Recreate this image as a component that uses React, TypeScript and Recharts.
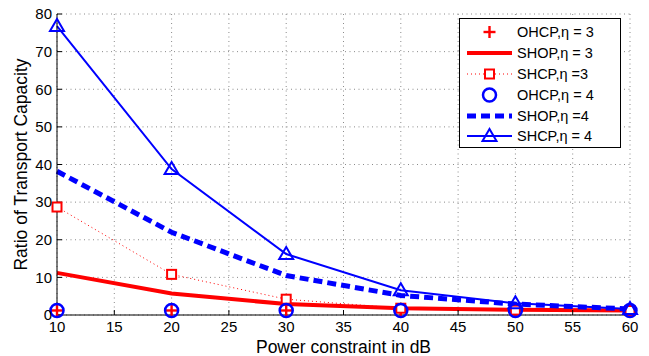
import { LineChart, Line, XAxis, YAxis, CartesianGrid, Legend } from 'recharts';

const powerDb = [10, 20, 30, 40, 50, 60];
const ohcpEta3 = [1.2, 1.2, 1.2, 1.2, 1.2, 1.2];
const shopEta3 = [11.2, 5.7, 2.9, 1.8, 1.4, 1.2];
const shcpEta3 = [28.7, 10.8, 4.2, 1.8, 1.3, 1.2];
const ohcpEta4 = [1.2, 1.2, 1.2, 1.2, 1.2, 1.2];
const shopEta4 = [38.2, 22, 10.5, 5.2, 2.9, 1.6];
const shcpEta4 = [76.8, 38.8, 16.2, 6.6, 3.1, 1.6];

const xTicks = [10, 15, 20, 25, 30, 35, 40, 45, 50, 55, 60];
const yTicks = [0, 10, 20, 30, 40, 50, 60, 70, 80];

const RED = '#ff0000';
const BLUE = '#0000ff';

const data = powerDb.map((x, i) => ({
  x,
  ohcp3: ohcpEta3[i],
  shop3: shopEta3[i],
  shcp3: shcpEta3[i],
  ohcp4: ohcpEta4[i],
  shop4: shopEta4[i],
  shcp4: shcpEta4[i],
}));

type M = 'plus' | 'square' | 'circle' | 'triangle' | 'none';

function Marker({ kind, cx, cy, color }: { kind: M; cx: number; cy: number; color: string }) {
  if (kind === 'plus')
    return (
      <g stroke={color} strokeWidth={2.4}>
        <line x1={cx - 6} y1={cy} x2={cx + 6} y2={cy} />
        <line x1={cx} y1={cy - 6} x2={cx} y2={cy + 6} />
      </g>
    );
  if (kind === 'square')
    return <rect x={cx - 4.5} y={cy - 4.5} width={9} height={9} fill="#fff" stroke={color} strokeWidth={2} />;
  if (kind === 'circle') return <circle cx={cx} cy={cy} r={6.5} fill="none" stroke={color} strokeWidth={2.5} />;
  if (kind === 'triangle')
    return (
      <polygon
        points={`${cx},${cy - 7} ${cx - 7},${cy + 5} ${cx + 7},${cy + 5}`}
        fill="none"
        stroke={color}
        strokeWidth={2}
      />
    );
  return null;
}

const series = [
  { key: 'ohcp3', name: 'OHCP,\u03b7 = 3', color: RED, width: 0, dash: undefined, marker: 'plus' as M },
  { key: 'shop3', name: 'SHOP,\u03b7 = 3', color: RED, width: 4, dash: undefined, marker: 'none' as M },
  { key: 'shcp3', name: 'SHCP,\u03b7 =3', color: RED, width: 1, dash: '1 3', marker: 'square' as M },
  { key: 'ohcp4', name: 'OHCP,\u03b7 = 4', color: BLUE, width: 0, dash: undefined, marker: 'circle' as M },
  { key: 'shop4', name: 'SHOP,\u03b7 =4', color: BLUE, width: 5, dash: '9 5', marker: 'none' as M },
  { key: 'shcp4', name: 'SHCP,\u03b7 = 4', color: BLUE, width: 2, dash: undefined, marker: 'triangle' as M },
];

function LegendBox() {
  return (
    <div
      style={{
        width: 162,
        height: 130,
        border: '1px solid #000',
        background: '#fff',
        boxSizing: 'border-box',
        padding: '3px 0',
      }}
    >
      {series.map((s) => (
        <div key={s.key} style={{ display: 'flex', alignItems: 'center', height: 20.8 }}>
          <svg width={57} height={20} style={{ flex: 'none' }}>
            {s.width > 0 && (
              <line x1={7} y1={10} x2={52} y2={10} stroke={s.color} strokeWidth={s.width} strokeDasharray={s.dash} />
            )}
            <Marker kind={s.marker} cx={29.5} cy={10} color={s.color} />
          </svg>
          <span style={{ fontSize: 14.5, color: '#000' }}>{s.name}</span>
        </div>
      ))}
    </div>
  );
}

export default function App() {
  return (
    <div style={{ position: 'absolute', left: 0, top: 0, background: '#fff', fontFamily: '"Liberation Sans", Arial, sans-serif' }}>
      <LineChart width={649} height={356} data={data} margin={{ top: 14, right: 19, left: 0, bottom: 0 }}>
        <CartesianGrid stroke="#8a8a8a" strokeDasharray="1 3.5" />
        <XAxis
          dataKey="x"
          type="number"
          domain={[10, 60]}
          ticks={xTicks}
          height={41}
          stroke="#000"
          tickSize={-5}
          tickMargin={11}
          tick={{ fill: '#000', fontSize: 15 }}
          label={{ value: 'Power constraint in dB', position: 'insideBottom', offset: 3, fill: '#000', fontSize: 17.5 }}
        />
        <XAxis
          xAxisId="top"
          orientation="top"
          type="number"
          domain={[10, 60]}
          ticks={xTicks}
          height={0}
          stroke="#000"
          tickSize={-5}
          tick={false}
        />
        <YAxis
          type="number"
          domain={[0, 80]}
          ticks={yTicks}
          width={57}
          stroke="#000"
          tickSize={-5}
          tickMargin={10}
          tick={{ fill: '#000', fontSize: 15 }}
          label={{ value: 'Ratio of Transport Capacity', angle: -90, position: 'center', dx: -8, fill: '#000', fontSize: 17.5 }}
        />
        <YAxis
          yAxisId="right"
          orientation="right"
          type="number"
          domain={[0, 80]}
          ticks={yTicks}
          width={0}
          stroke="#000"
          tickSize={-5}
          tick={false}
        />
        {series.map((s) => (
          <Line
            key={s.key}
            dataKey={s.key}
            name={s.name}
            type="linear"
            stroke={s.width > 0 ? s.color : 'none'}
            strokeWidth={s.width}
            strokeDasharray={s.dash}
            isAnimationActive={false}
            activeDot={false}
            dot={(p: any) => <Marker key={`${s.key}-${p.index}`} kind={s.marker} cx={p.cx} cy={p.cy} color={s.color} />}
          />
        ))}
        <Legend
          layout="vertical"
          align="center"
          verticalAlign="middle"
          wrapperStyle={{ left: 459, top: 18, width: 162 }}
          content={() => <LegendBox />}
        />
      </LineChart>
    </div>
  );
}
